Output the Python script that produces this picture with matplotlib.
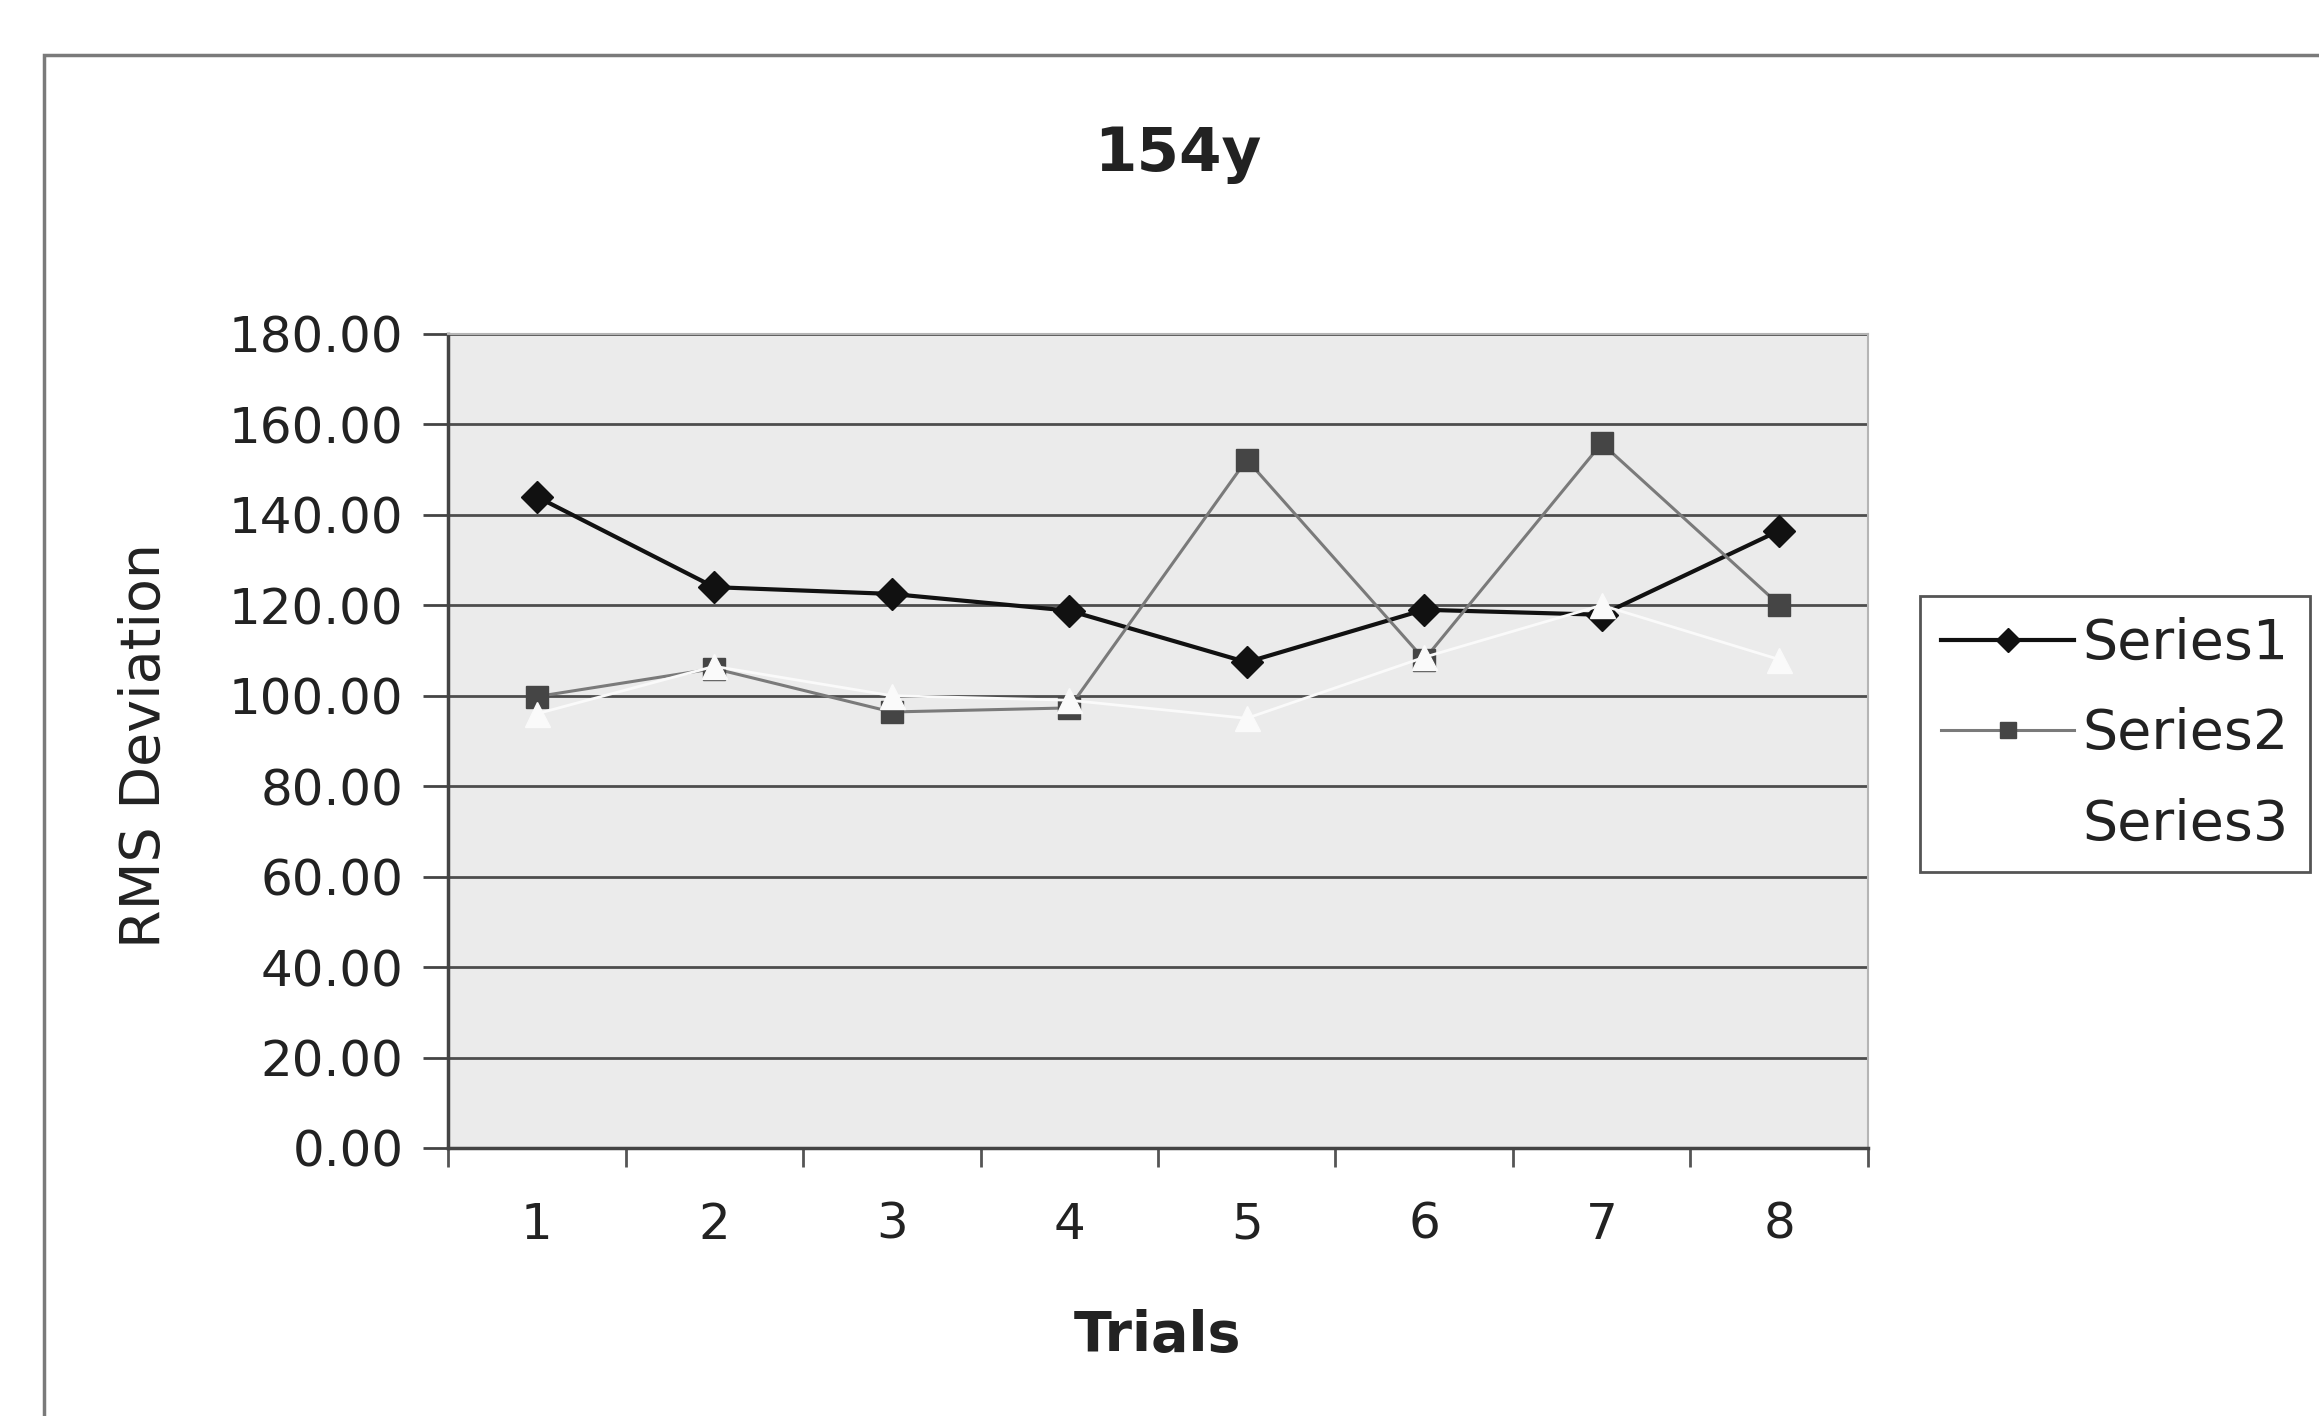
import matplotlib
matplotlib.use("Agg")
import matplotlib.pyplot as plt
from matplotlib.patches import Rectangle

trials = [1, 2, 3, 4, 5, 6, 7, 8]
series1 = [144.0, 124.0, 122.5, 118.8, 107.4, 119.0, 117.9, 136.5]
series2 = [99.8, 106.0, 96.4, 97.3, 152.2, 108.0, 155.8, 120.1]
series3 = [96.0, 106.5, 100.0, 99.0, 95.0, 108.5, 120.0, 108.0]
yticks = [0, 20, 40, 60, 80, 100, 120, 140, 160, 180]

fig = plt.figure(figsize=(23.19, 14.16), dpi=100)
fig.patch.set_facecolor("white")

# chart area frame (runs off the right and bottom edges)
fig.patches.append(Rectangle((44 / 2319, -0.05), 1.1, 1 - 55 / 1416 + 0.05,
                             transform=fig.transFigure, fill=False,
                             edgecolor="#7a7a7a", linewidth=2.5))

ax = fig.add_axes([0.1932, 0.1893, 0.6123, 0.5749])
ax.set_facecolor("#ebebeb")

for v in yticks[1:]:
    ax.axhline(v, color="#4d4d4d", linewidth=2.0, zorder=1)

l1, = ax.plot(trials, series1, color="#111111", linewidth=3.0, marker="D",
              markersize=16, markerfacecolor="#111111", markeredgecolor="#111111",
              label="Series1", zorder=3)
l2, = ax.plot(trials, series2, color="#7a7a7a", linewidth=2.2, marker="s",
              markersize=16, markerfacecolor="#454545", markeredgecolor="#454545",
              label="Series2", zorder=3)
l3, = ax.plot(trials, series3, color="#fafafa", linewidth=2.0, marker="^",
              markersize=18, markerfacecolor="#fafafa", markeredgecolor="#fafafa",
              label="Series3", zorder=4)

ax.set_xlim(0.5, 8.5)
ax.set_ylim(0, 180)

# category ticks sit between the trials, labels in the middle
ax.set_xticks([i + 0.5 for i in range(0, 9)])
ax.set_xticklabels([])
ax.set_xticks(trials, minor=True)
ax.set_xticklabels([str(t) for t in trials], minor=True)
ax.tick_params(axis="x", which="major", direction="out", length=14, width=2,
               color="#555555")
ax.tick_params(axis="x", which="minor", length=0, pad=38, labelsize=36,
               labelcolor="#222222")

ax.set_yticks(yticks)
ax.set_yticklabels([f"{v:.2f}" for v in yticks])
ax.tick_params(axis="y", direction="out", length=18, width=2, color="#444444",
               pad=14, labelsize=36, labelcolor="#222222")

for side in ["left", "bottom"]:
    ax.spines[side].set_color("#444444")
    ax.spines[side].set_linewidth(2.5)
for side in ["top", "right"]:
    ax.spines[side].set_color("#b5b5b5")
    ax.spines[side].set_linewidth(1.5)

ax.set_xlabel("Trials", fontsize=40, fontweight="bold", color="#222222")
ax.xaxis.set_label_coords(0.5, -0.198)
ax.xaxis.label.set_va("top")

fig.text(145 / 2319, 1 - 745 / 1416, "RMS Deviation", rotation=90,
         ha="center", va="center", fontsize=40, color="#222222")

fig.text(0.508, 0.891, "154y", ha="center", va="center", fontsize=44,
         fontweight="bold", color="#222222")

leg = fig.legend(handles=[l1, l2, l3], loc="upper left",
                 bbox_to_anchor=(1920 / 2319, 1 - 596 / 1416),
                 fontsize=40, frameon=True, fancybox=False, framealpha=1,
                 edgecolor="#555555", handlelength=2.4, handletextpad=0.15,
                 labelspacing=0.65, borderpad=0.38, borderaxespad=0)
leg.get_frame().set_linewidth(2)
for h in leg.legend_handles:
    h.set_markersize(12)
# white series vanishes against the white legend box
leg.legend_handles[2].set_color("white")
leg.legend_handles[2].set_markerfacecolor("white")
leg.legend_handles[2].set_markeredgecolor("white")
for t in leg.get_texts():
    t.set_color("#222222")

fig.savefig("out.png", dpi=100)
